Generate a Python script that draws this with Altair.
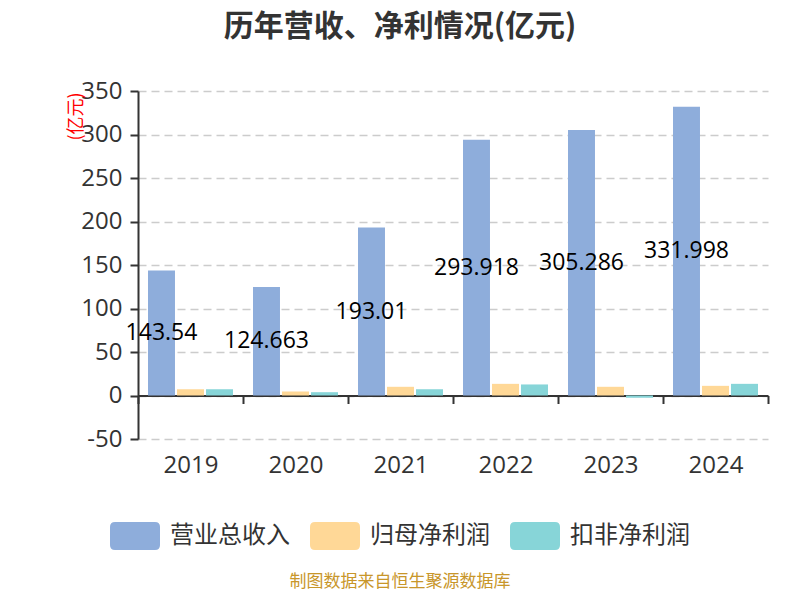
import altair as alt
import pandas as pd

years = ["2019", "2020", "2021", "2022", "2023", "2024"]
series_names = ["营业总收入", "归母净利润", "扣非净利润"]
revenue = [143.54, 124.663, 193.01, 293.918, 305.286, 331.998]
net_profit = [7.2, 4.6, 10.0, 13.4, 10.0, 11.1]
deducted_profit = [7.2, 3.8, 7.2, 12.7, -2.7, 13.4]
revenue_labels = ["143.54", "124.663", "193.01", "293.918", "305.286", "331.998"]
colors = ["#8eaddb", "#ffd897", "#87d5d8"]
y_ticks = [-50, 0, 50, 100, 150, 200, 250, 300, 350]

rows = []
for i, y in enumerate(years):
    for s, vals in zip(series_names, [revenue, net_profit, deducted_profit]):
        rows.append({"year": y, "series": s, "value": vals[i],
                     "label": revenue_labels[i] if s == series_names[0] else ""})
df = pd.DataFrame(rows)

FONT = "Open Sans, Noto Sans CJK SC, sans-serif"
CJK = "Noto Sans CJK SC, sans-serif"

W, H = 630, 348

x_enc = alt.X("year:N", sort=years,
              scale=alt.Scale(paddingInner=0, paddingOuter=0),
              axis=alt.Axis(orient="bottom", offset=-43.5, title=None, labelAngle=0,
                            domainColor="#333333", domainWidth=2,
                            tickColor="#333333", tickWidth=2, tickSize=8,
                            tickBand="extent", labelPadding=50,
                            labelFontSize=24, labelColor="#333333", labelFont=FONT,
                            grid=False))
xoff_scale = alt.Scale(domain=series_names, paddingInner=0.07, paddingOuter=0.345)
y_scale = alt.Scale(domain=[-50, 350], nice=False, zero=False)

bars = alt.Chart(df).mark_bar().encode(
    x=x_enc,
    xOffset=alt.XOffset("series:N", sort=series_names, scale=xoff_scale),
    y=alt.Y("value:Q", stack=None, scale=y_scale,
            axis=alt.Axis(values=y_ticks, title="(亿元)", titleColor="red",
                          titleFontSize=18, titleFontWeight="normal", titleFont=CJK,
                          titleX=-62, titleY=25, titleAngle=270,
                          titleAlign="center", titleBaseline="middle",
                          domainColor="#333333", domainWidth=2,
                          tickColor="#333333", tickWidth=2, tickSize=8,
                          labelPadding=8, labelFontSize=24, labelColor="#333333",
                          labelFont=FONT, labelExpr="'' + datum.value",
                          grid=True, gridDash=[8, 5], gridColor="#cccccc", gridWidth=1.5)),
    color=alt.Color("series:N", sort=series_names,
                    scale=alt.Scale(domain=series_names, range=colors),
                    legend=alt.Legend(title=None, orient="none", legendX=-28, legendY=420,
                                      direction="horizontal", padding=0,
                                      symbolType="M-0.8,-0.56L0.8,-0.56Q1,-0.56 1,-0.36L1,0.36Q1,0.56 0.8,0.56L-0.8,0.56Q-1,0.56 -1,0.36L-1,-0.36Q-1,-0.56 -0.8,-0.56Z",
                                      symbolSize=2500, symbolStrokeWidth=0, symbolOpacity=1,
                                      labelFontSize=24, labelFont=CJK, labelColor="#333333",
                                      labelOffset=10, columnPadding=20)),
)

labels = alt.Chart(df).transform_filter(
    alt.datum.series == series_names[0]
).transform_calculate(
    mid="datum.value / 2"
).mark_text(fontSize=23, color="#000000", font=FONT, align="center", baseline="middle").encode(
    x=alt.X("year:N", sort=years),
    xOffset=alt.XOffset("series:N", sort=series_names, scale=xoff_scale),
    y=alt.Y("mid:Q", scale=y_scale, axis=None),
    text="label:N",
)

title = alt.Chart(pd.DataFrame({"t": ["历年营收、净利情况(亿元)"]})).mark_text(
    fontSize=30, fontWeight="bold", color="#333333", font=CJK,
    align="center", baseline="middle").encode(
    text="t:N", x=alt.value(262), y=alt.value(-64))

footer = alt.Chart(pd.DataFrame({"t": ["制图数据来自恒生聚源数据库"]})).mark_text(
    fontSize=17, color="#c8962a", font=CJK,
    align="center", baseline="middle").encode(
    text="t:N", x=alt.value(262), y=alt.value(491))

chart = alt.layer(bars, labels, title, footer).resolve_axis(y="independent").properties(
    width=W, height=H,
    autosize=alt.AutoSizeParams(type="none"),
    padding={"left": 130, "top": 83, "right": 24, "bottom": 153},
).configure_view(stroke=None)

chart.save("out.html", embed_options={"renderer": "svg", "actions": False})
